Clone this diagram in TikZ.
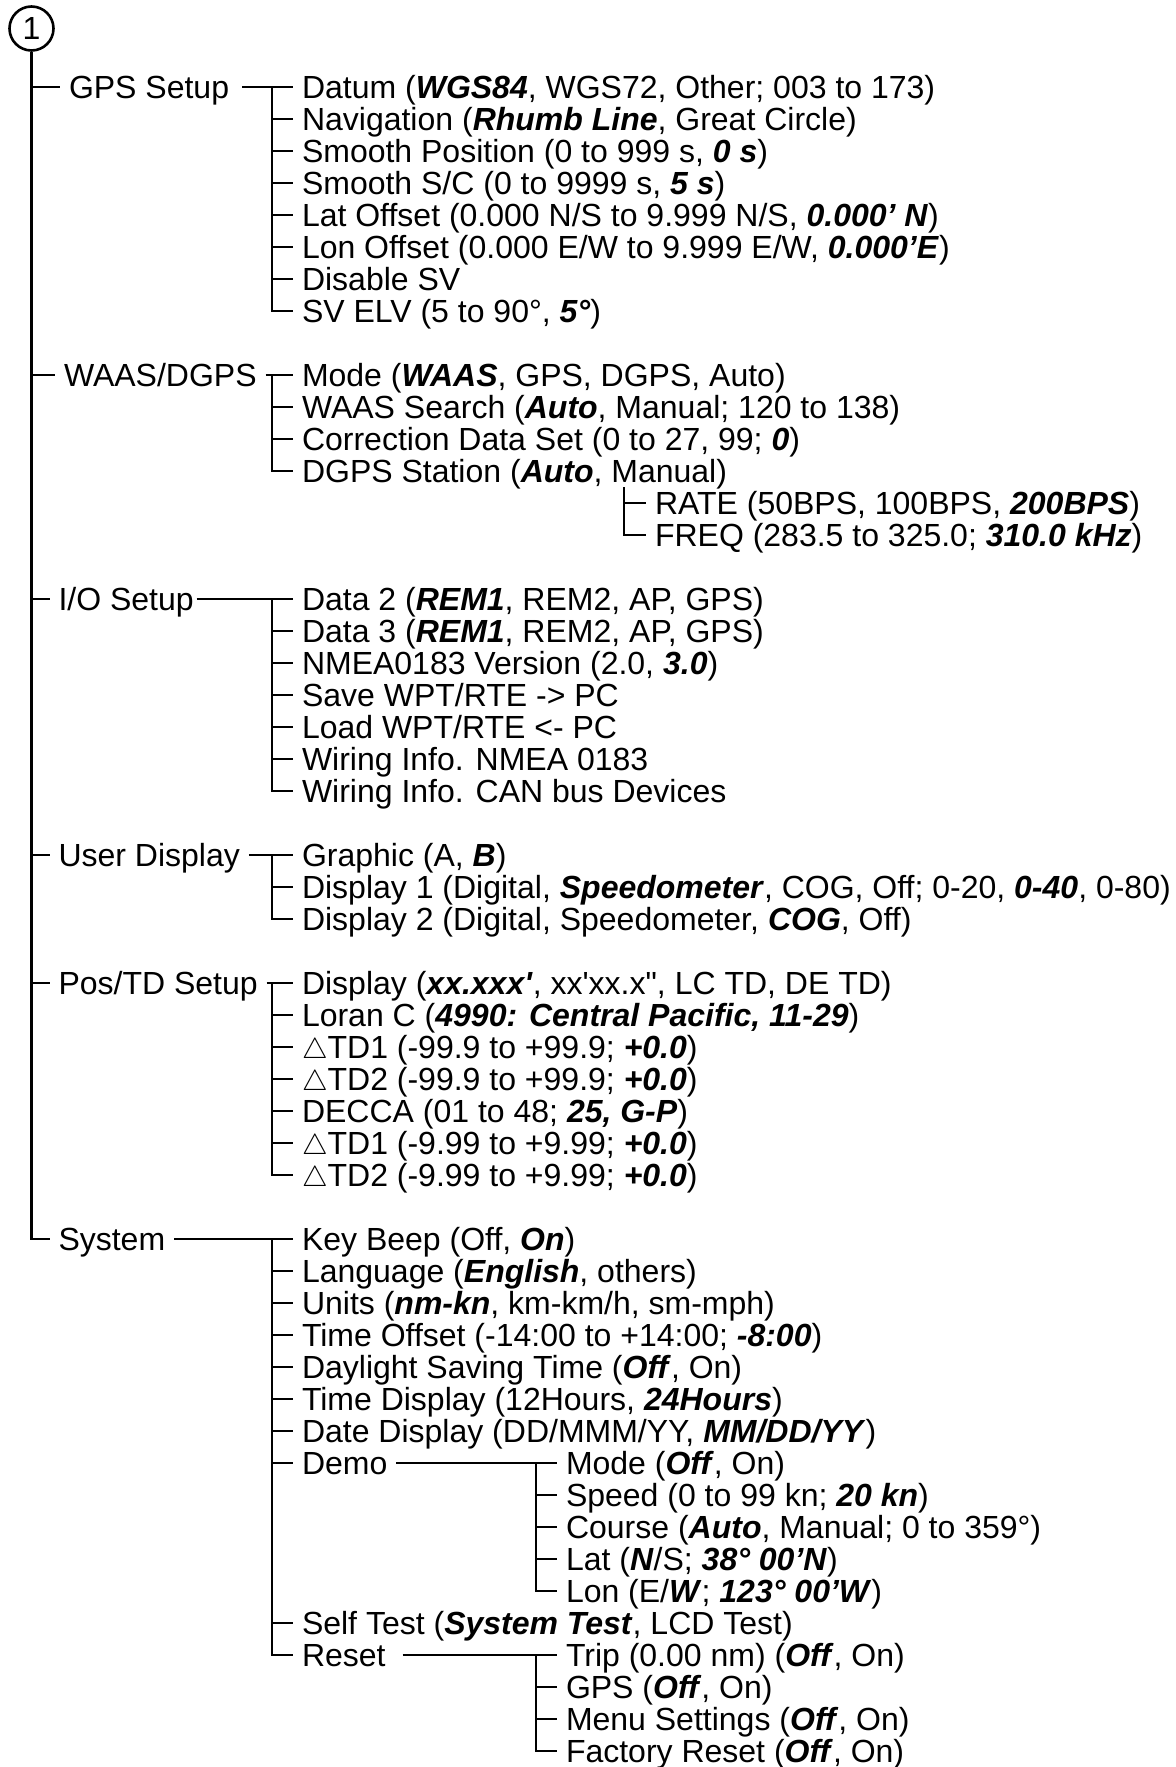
\documentclass[tikz,border=0pt]{standalone}
\usepackage{fontspec}
\newfontfamily\menufont{Liberation Sans}

\newcommand{\bi}[1]{\textbf{\textit{#1}}}
\newcommand{\tri}{{\fontsize{14.5pt}{14.5pt}\selectfont$\triangle$}}

\tikzset{
	menu/.style={anchor=west, inner sep=0pt, outer xsep=4.5pt, text height=11.5pt, text depth=0pt,
		font=\menufont\fontsize{16pt}{16pt}\selectfont},
	tree/.style={line width=1.3pt},
}

\begin{document}
\begin{tikzpicture}[x=0.5pt, y=-0.5pt]
	\useasboundingbox (0,0) rectangle (1176,1767);

	% Wurzel und Hauptmenue
	\node[circle, draw, line width=1.3pt, minimum size=22pt, inner sep=0pt,
		font=\menufont\fontsize{16pt}{16pt}\selectfont] (root) at (31.5,28.5) {1};
	\node[menu] (gps) at (60,87) {GPS Setup};
	\node[menu] (waas) at (55,375) {WAAS/DGPS};
	\node[menu] (io) at (49.5,599) {I/O Setup};
	\node[menu] (user) at (49.5,855) {User Display};
	\node[menu] (pos) at (49.5,983) {Pos/TD Setup};
	\node[menu] (sys) at (49.5,1239) {System};
	\draw[tree] (root) -- (root |- sys.west) -- (sys.west);
	\draw[tree] (root |- gps.west) -- (gps.west) (root |- waas.west) -- (waas.west)
		(root |- io.west) -- (io.west) (root |- user.west) -- (user.west)
		(root |- pos.west) -- (pos.west);

	% GPS Setup
	\coordinate (gpsbar) at (272,87);
	\node[menu] (gps1) at (293,87) {Datum (\bi{WGS84}, WGS72, Other; 003 to 173)};
	\node[menu] (gps2) at (293,119) {Navigation (\bi{Rhumb Line}, Great Circle)};
	\node[menu] (gps3) at (293,151) {Smooth Position (0 to 999 s, \bi{0 s})};
	\node[menu] (gps4) at (293,183) {Smooth S/C (0 to 9999 s, \bi{5 s})};
	\node[menu] (gps5) at (293,215) {Lat Offset (0.000 N/S to 9.999 N/S, \bi{0.000’ N})};
	\node[menu] (gps6) at (293,247) {Lon Offset (0.000 E/W to 9.999 E/W, \bi{0.000’E})};
	\node[menu] (gps7) at (293,279) {Disable SV};
	\node[menu] (gps8) at (293,311) {SV ELV (5 to 90°, \bi{5°})};
	\draw[tree, shorten <=2pt] (gps.east) -- (gps1.west);
	\draw[tree] (gpsbar) |- (gps2.west) (gpsbar) |- (gps3.west) (gpsbar) |- (gps4.west)
		(gpsbar) |- (gps5.west) (gpsbar) |- (gps6.west) (gpsbar) |- (gps7.west)
		(gpsbar) |- (gps8.west);

	% WAAS/DGPS
	\coordinate (waasbar) at (272,375);
	\node[menu] (waas1) at (293,375) {Mode (\bi{WAAS}, GPS, DGPS, Auto)};
	\node[menu] (waas2) at (293,407) {WAAS Search (\bi{Auto}, Manual; 120 to 138)};
	\node[menu] (waas3) at (293,439) {Correction Data Set (0 to 27, 99; \bi{0})};
	\node[menu] (waas4) at (293,471) {DGPS Station (\bi{Auto}, Manual)};
	\draw[tree] (waas.east) -- (waas1.west);
	\draw[tree] (waasbar) |- (waas2.west) (waasbar) |- (waas3.west) (waasbar) |- (waas4.west);
	% DGPS Station
	\coordinate (dgpsbar) at (624,487);
	\node[menu] (rate) at (646,503) {RATE (50BPS, 100BPS, \bi{200BPS})};
	\node[menu] (freq) at (646,535) {FREQ (283.5 to 325.0; \bi{310.0 kHz})};
	\draw[tree] (dgpsbar) |- (rate.west) (dgpsbar) |- (freq.west);

	% I/O Setup
	\coordinate (iobar) at (272,599);
	\node[menu] (io1) at (293,599) {Data 2 (\bi{REM1}, REM2, AP, GPS)};
	\node[menu] (io2) at (293,631) {Data 3 (\bi{REM1}, REM2, AP, GPS)};
	\node[menu] (io3) at (293,663) {NMEA0183 Version (2.0, \bi{3.0})};
	\node[menu] (io4) at (293,695) {Save WPT/RTE -> PC};
	\node[menu] (io5) at (293,727) {Load WPT/RTE <- PC};
	\node[menu] (io6) at (293,759) {Wiring Info. NMEA 0183};
	\node[menu] (io7) at (293,791) {Wiring Info. CAN bus Devices};
	\draw[tree, shorten <=-3pt] (io.east) -- (io1.west);
	\draw[tree] (iobar) |- (io2.west) (iobar) |- (io3.west) (iobar) |- (io4.west)
		(iobar) |- (io5.west) (iobar) |- (io6.west) (iobar) |- (io7.west);

	% User Display
	\coordinate (userbar) at (272,855);
	\node[menu] (user1) at (293,855) {Graphic (A, \bi{B})};
	\node[menu] (user2) at (293,887) {Display 1 (Digital, \bi{Speedometer}, COG, Off; 0-20, \bi{0-40}, 0-80)};
	\node[menu] (user3) at (293,919) {Display 2 (Digital, Speedometer, \bi{COG}, Off)};
	\draw[tree] (user.east) -- (user1.west);
	\draw[tree] (userbar) |- (user2.west) (userbar) |- (user3.west);

	% Pos/TD Setup
	\coordinate (posbar) at (272,983);
	\node[menu] (pos1) at (293,983) {Display (\bi{xx.xxx'}, xx'xx.x", LC TD, DE TD)};
	\node[menu] (pos2) at (293,1015) {Loran C (\bi{4990: Central Pacific, 11-29})};
	\node[menu] (pos3) at (293,1047) {\tri TD1 (-99.9 to +99.9; \bi{+0.0})};
	\node[menu] (pos4) at (293,1079) {\tri TD2 (-99.9 to +99.9; \bi{+0.0})};
	\node[menu] (pos5) at (293,1111) {DECCA (01 to 48; \bi{25, G-P})};
	\node[menu] (pos6) at (293,1143) {\tri TD1 (-9.99 to +9.99; \bi{+0.0})};
	\node[menu] (pos7) at (293,1175) {\tri TD2 (-9.99 to +9.99; \bi{+0.0})};
	\draw[tree] (pos.east) -- (pos1.west);
	\draw[tree] (posbar) |- (pos2.west) (posbar) |- (pos3.west) (posbar) |- (pos4.west)
		(posbar) |- (pos5.west) (posbar) |- (pos6.west) (posbar) |- (pos7.west);

	% System
	\coordinate (sysbar) at (272,1239);
	\node[menu] (sys1) at (293,1239) {Key Beep (Off, \bi{On})};
	\node[menu] (sys2) at (293,1271) {Language (\bi{English}, others)};
	\node[menu] (sys3) at (293,1303) {Units (\bi{nm-kn}, km-km/h, sm-mph)};
	\node[menu] (sys4) at (293,1335) {Time Offset (-14:00 to +14:00; \bi{-8:00})};
	\node[menu] (sys5) at (293,1367) {Daylight Saving Time (\bi{Off}, On)};
	\node[menu] (sys6) at (293,1399) {Time Display (12Hours, \bi{24Hours})};
	\node[menu] (sys7) at (293,1431) {Date Display (DD/MMM/YY, \bi{MM/DD/YY})};
	\node[menu] (demo) at (293,1463) {Demo};
	\node[menu] (sys9) at (293,1623) {Self Test (\bi{System Test}, LCD Test)};
	\node[menu] (reset) at (293,1655) {Reset};
	\draw[tree] (sys.east) -- (sys1.west);
	\draw[tree] (sysbar) |- (sys2.west) (sysbar) |- (sys3.west) (sysbar) |- (sys4.west)
		(sysbar) |- (sys5.west) (sysbar) |- (sys6.west) (sysbar) |- (sys7.west)
		(sysbar) |- (demo.west) (sysbar) |- (sys9.west) (sysbar) |- (reset.west);

	% Demo
	\coordinate (demobar) at (536,1463);
	\node[menu] (demo1) at (557,1463) {Mode (\bi{Off}, On)};
	\node[menu] (demo2) at (557,1495) {Speed (0 to 99 kn; \bi{20 kn})};
	\node[menu] (demo3) at (557,1527) {Course (\bi{Auto}, Manual; 0 to 359°)};
	\node[menu] (demo4) at (557,1559) {Lat (\bi{N}/S; \bi{38° 00’N})};
	\node[menu] (demo5) at (557,1591) {Lon (E/\bi{W}; \bi{123° 00’W})};
	\draw[tree] (demo.east) -- (demo1.west);
	\draw[tree] (demobar) |- (demo2.west) (demobar) |- (demo3.west) (demobar) |- (demo4.west)
		(demobar) |- (demo5.west);

	% Reset
	\coordinate (resetbar) at (536,1655);
	\node[menu] (reset1) at (557,1655) {Trip (0.00 nm) (\bi{Off}, On)};
	\node[menu] (reset2) at (557,1687) {GPS (\bi{Off}, On)};
	\node[menu] (reset3) at (557,1719) {Menu Settings (\bi{Off}, On)};
	\node[menu] (reset4) at (557,1751) {Factory Reset (\bi{Off}, On)};
	\draw[tree, shorten <=4pt] (reset.east) -- (reset1.west);
	\draw[tree] (resetbar) |- (reset2.west) (resetbar) |- (reset3.west) (resetbar) |- (reset4.west);
\end{tikzpicture}
\end{document}
